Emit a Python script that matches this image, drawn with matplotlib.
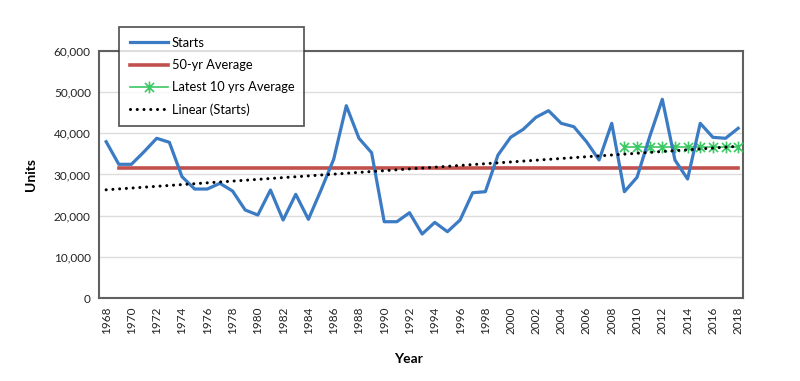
import numpy as np
import matplotlib
matplotlib.use("Agg")
import matplotlib.pyplot as plt
from matplotlib.path import Path
from matplotlib.ticker import FuncFormatter

plt.rcParams['font.family'] = ['Lato', 'DejaVu Sans']

# starts per year
years = list(range(1968, 2019))
starts = [37950, 32470, 32470, 35520, 38770, 37800, 29470, 26480, 26480, 27860,
          26000, 21400, 20180, 26240, 18970, 25200, 19140, 26240, 33680, 46670,
          38770, 35280, 18560, 18560, 20740, 15580, 18400, 16140, 18970, 25590,
          25830, 34720, 39010, 40950, 43850, 45460, 42400, 41580, 37950, 33510,
          42400, 25830, 29320, 39160, 48220, 33510, 28910, 42400, 39010, 38770,
          41190]
avg_50yr = 31500      # 1969-2018
avg_10yr = 36700      # 2009-2018
xtick_years = list(range(1968, 2019, 2))

blue = '#3b7bc4'
red = '#c0504d'
green = '#3cc864'

# excel style asterisk marker (x plus a vertical bar)
asterisk = Path([(-1, -1), (1, 1), (-1, 1), (1, -1), (0, -1.3), (0, 1.3)],
                [Path.MOVETO, Path.LINETO, Path.MOVETO, Path.LINETO, Path.MOVETO, Path.LINETO])

fig = plt.figure(figsize=(8, 3.81), dpi=100)
ax = fig.add_axes([0.124, 0.217, 0.805, 0.650])

x = np.array(years)
y = np.array(starts)

ax.plot(x, y, color=blue, lw=2.3, label='Starts', zorder=4, solid_joinstyle='round')
yrs50 = x[x >= 1969]
ax.plot(yrs50, [avg_50yr] * len(yrs50), color=red, lw=2.6, label='50-yr Average', zorder=3)
yrs10 = x[x >= 2009]
ax.plot(yrs10, [avg_10yr] * len(yrs10), color=green, lw=1.2, marker=asterisk,
        markersize=8.5, markeredgewidth=1.2, markeredgecolor=green, markerfacecolor='none',
        label='Latest 10 yrs Average', zorder=3)
# excel style linear trendline
k, b = np.polyfit(x, y, 1)
ax.plot(x, k * x + b, color='black', lw=2.2, linestyle=(0, (0.01, 2.2)),
        dash_capstyle='round', label='Linear (Starts)', zorder=5)

ax.set_xlim(1967.45, 2018.4)
ax.set_ylim(0, 60000)
ax.set_yticks(range(0, 60001, 10000))
ax.yaxis.set_major_formatter(FuncFormatter(lambda v, p: f'{int(v):,}'))
ax.set_xticks(xtick_years)
ax.set_xticklabels([str(t) for t in xtick_years], rotation=90)
ax.tick_params(length=0, labelsize=8.5, colors='#222222', pad=6)
ax.grid(axis='y', color='#dddddd', lw=1)
ax.set_axisbelow(True)
for s in ax.spines.values():
    s.set_color('#606060')
    s.set_linewidth(1.5)

ax.set_ylabel('Units', fontsize=10, fontweight='bold', labelpad=12)
ax.set_xlabel('Year', fontsize=10, fontweight='bold')
ax.xaxis.set_label_coords(0.48, -0.22)

leg = fig.legend(loc='upper left', bbox_to_anchor=(0.149, 0.930), fontsize=9.3,
                 frameon=True, fancybox=False, handlelength=3.0, handletextpad=0.25,
                 labelspacing=0.78, borderpad=0.8, borderaxespad=0)
leg.get_frame().set_edgecolor('#333333')
leg.get_frame().set_linewidth(1.3)
leg.set_zorder(10)

fig.savefig('out.png', dpi=100)
